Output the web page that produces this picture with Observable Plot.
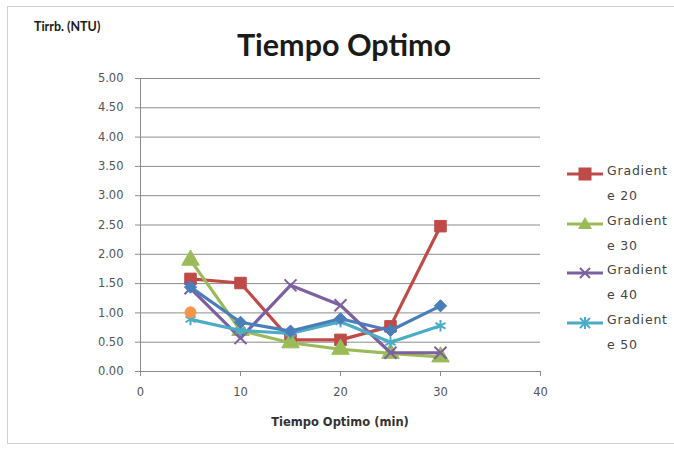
<!DOCTYPE html>
<html><head><meta charset="utf-8">
<script src="https://cdn.jsdelivr.net/npm/d3@7"></script>
<script src="https://cdn.jsdelivr.net/npm/@observablehq/plot@0.6"></script>
<style>
body{margin:0;background:#fff;font-family:Lato,"Open Sans",sans-serif;}
#wrap{position:relative;width:674px;height:455px;overflow:hidden;}
#frame{position:absolute;left:7px;top:6px;width:700px;height:438px;border:1px solid #d0d0d0;box-sizing:border-box;}
.t{position:absolute;white-space:nowrap;color:#1a1a1a;}
#legend{position:absolute;left:566px;top:160px;width:120px;}
.li{position:relative;height:49.5px;}
.li svg{position:absolute;left:0;top:4px;}
.li span{position:absolute;left:41px;white-space:nowrap;font-family:"DejaVu Sans",sans-serif;font-size:12.5px;letter-spacing:0.8px;color:#444;}
.li .a{top:3px;}
.li .b{top:28px;}
</style></head>
<body><div id="wrap"><div id="frame"></div><div id="chart"></div>
<div class="t" style="left:34px;top:19px;font-size:12.5px;font-weight:bold;">Tirrb. (NTU)</div>
<div class="t" style="left:4px;width:680px;text-align:center;top:26px;font-size:30.5px;font-weight:bold;">Tiempo Optimo</div>
<div class="t" style="left:0;width:680px;text-align:center;top:415px;font-family:'DejaVu Sans',sans-serif;font-size:11.5px;font-weight:bold;color:#333;">Tiempo Optimo (min)</div>
<div id="legend"></div>
</div>
<script>
const times = [5, 10, 15, 20, 25, 30];
const g20 = [1.58, 1.51, 0.54, 0.54, 0.77, 2.48];
const g30 = [1.90, 0.70, 0.49, 0.38, 0.31, 0.25];
const g40 = [1.42, 0.57, 1.47, 1.13, 0.32, 0.32];
const g50 = [0.89, 0.70, 0.65, 0.85, 0.50, 0.78];
const s5 = [1.44, 0.84, 0.69, 0.90, 0.70, 1.12];
const s6times = [5];
const s6 = [1.01];
const seriesNames = ["Gradiente 20", "Gradiente 30", "Gradiente 40", "Gradiente 50", "Serie 5", "Serie 6"];
const legendA = ["Gradient", "Gradient", "Gradient", "Gradient"];
const legendB = ["e 20", "e 30", "e 40", "e 50"];
const yTicks = [0, 0.5, 1, 1.5, 2, 2.5, 3, 3.5, 4, 4.5, 5];
const xTicks = [0, 10, 20, 30, 40];

const colors = ["#BE4B48", "#9BBB59", "#7D60A0", "#4BACC6", "#4A7EBB", "#F79646"];
const symbols = ["square", "triangle", "times", "asterisk", "diamond2", "circle"];
const filled = [true, true, false, false, true, true];
const sizes = [6.5, 6.5, 5.5, 5.5, 5.5, 5.5];

const allVals = [g20, g30, g40, g50, s5, s6];
const allTimes = [times, times, times, times, times, s6times];
const rows = [];
allVals.forEach((vals, si) => vals.forEach((v, i) => rows.push({s: si, name: seriesNames[si], x: allTimes[si][i], y: v})));

const tickFont = "'DejaVu Sans', sans-serif";
const marks = [
  Plot.ruleY(yTicks.slice(1), {stroke: "#8c8c8c", strokeWidth: 1}),
  Plot.ruleY([0], {stroke: "#8c8c8c"}),
  Plot.ruleX([0], {stroke: "#8c8c8c"}),
  Plot.axisY({ticks: yTicks, tickFormat: d3.format(".2f"), tickSize: 5, tickPadding: 12, fontSize: 11.5, fontFamily: tickFont, letterSpacing: 0.8, stroke: "#8c8c8c", color: "#555", label: null}),
  Plot.axisX({ticks: xTicks, tickSize: 5, tickPadding: 11, fontSize: 11.5, fontFamily: tickFont, letterSpacing: 0.8, stroke: "#8c8c8c", color: "#555", label: null})
];
for (let si = 0; si < 6; si++) {
  const d = rows.filter(r => r.s === si);
  marks.push(Plot.line(d, {x: "x", y: "y", stroke: colors[si], strokeWidth: 3.2, strokeLinejoin: "round"}));
  marks.push(Plot.dot(d, {x: "x", y: "y", symbol: () => symbols[si], r: sizes[si],
    fill: filled[si] ? colors[si] : "none", stroke: colors[si], strokeWidth: filled[si] ? 1 : 2}));
}

const chart = Plot.plot({
  width: 674, height: 455,
  marginLeft: 140, marginRight: 134, marginTop: 78, marginBottom: 84,
  x: {domain: [0, 40]},
  y: {domain: [0, 5]},
  symbol: {type: "identity"},
  style: {background: "transparent", fontFamily: "Lato, 'Open Sans', sans-serif"},
  marks
});
chart.style.position = "absolute";
chart.style.left = "0"; chart.style.top = "0";
document.getElementById("chart").appendChild(chart);

const leg = document.getElementById("legend");
const symPath = {
  square: '<rect x="13" y="-6" width="12" height="12" fill="C" stroke="C"/>',
  triangle: '<path d="M19,-7 L26,5 L12,5 Z" fill="C"/>',
  times: '<path d="M14,-5 L24,5 M14,5 L24,-5" stroke="C" stroke-width="2"/>',
  asterisk: '<path d="M14,-5 L24,5 M14,5 L24,-5 M19,-6 L19,6" stroke="C" stroke-width="2"/>'
};
for (let i = 0; i < 4; i++) {
  const c = colors[i];
  const div = document.createElement("div");
  div.className = "li";
  div.innerHTML = `<svg width="40" height="20"><g transform="translate(0,10)"><line x1="1" x2="37" y1="0" y2="0" stroke="${c}" stroke-width="3"/>${symPath[symbols[i]].replace(/C/g, c)}</g></svg><span class="a">${legendA[i]}</span><span class="b">${legendB[i]}</span>`;
  leg.appendChild(div);
}
</script></body></html>
